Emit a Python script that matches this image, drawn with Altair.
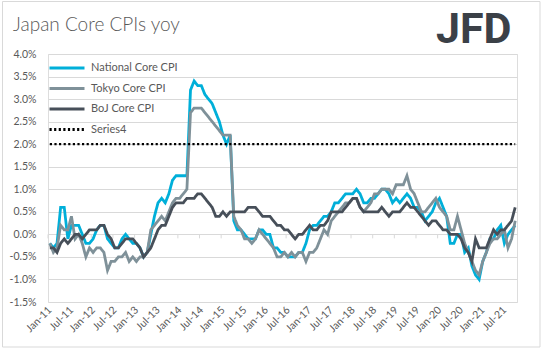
import altair as alt
import pandas as pd

FONT = "Lato"
TXT = "#595959"
GRID = "#d9d9d9"

years = list(range(2011, 2022))
month_names = ["Jan", "Feb", "Mar", "Apr", "May", "Jun", "Jul", "Aug", "Sep", "Oct", "Nov", "Dec"]
months = [f"{m}-{str(y)[2:]}" for y in years for m in month_names][:130]  # Jan-11 .. Oct-21
x_labels = months[::6]

national = [
    -0.2, -0.3, -0.2, 0.6, 0.6, -0.1, 0.2, 0.2, 0.2, 0.0, -0.2, -0.2,
    -0.1, 0.1, 0.2, 0.2, -0.1, -0.2, -0.3, -0.3, -0.1, 0.0, -0.1, -0.2,
    -0.2, -0.3, -0.5, -0.4, 0.0, 0.4, 0.7, 0.8, 0.7, 0.9, 1.2, 1.3,
    1.3, 1.3, 1.3, 3.2, 3.4, 3.3, 3.3, 3.1, 3.0, 2.9, 2.7, 2.5,
    2.2, 2.0, 2.2, 0.3, 0.1, 0.1, 0.0, -0.1, -0.1, -0.1, 0.1, 0.1,
    0.0, 0.0, -0.3, -0.3, -0.4, -0.4, -0.5, -0.5, -0.5, -0.4, -0.4, -0.2,
    0.1, 0.2, 0.2, 0.3, 0.4, 0.4, 0.5, 0.7, 0.7, 0.8, 0.9, 0.9,
    0.9, 1.0, 0.9, 0.7, 0.7, 0.8, 0.8, 0.9, 1.0, 1.0, 0.9, 0.7,
    0.8, 0.7, 0.8, 0.9, 0.8, 0.6, 0.6, 0.5, 0.3, 0.4, 0.5, 0.7,
    0.8, 0.6, 0.4, -0.2, -0.2, 0.0, 0.0, -0.4, -0.3, -0.7, -0.9, -1.0,
    -0.6, -0.4, -0.1, -0.1, 0.1, 0.2, -0.2, 0.0, 0.1, 0.2,
]
tokyo = [
    -0.2, -0.4, -0.3, 0.2, 0.1, 0.1, 0.4, -0.1, 0.0, -0.2, -0.5, -0.3,
    -0.4, -0.3, -0.3, -0.4, -0.8, -0.6, -0.6, -0.5, -0.5, -0.4, -0.6, -0.5,
    -0.6, -0.5, -0.5, -0.4, 0.1, 0.2, 0.3, 0.4, 0.3, 0.5, 0.7, 0.8,
    0.8, 0.9, 1.0, 2.7, 2.8, 2.8, 2.8, 2.7, 2.6, 2.5, 2.4, 2.3,
    2.2, 2.2, 2.2, 0.4, 0.2, 0.1, -0.1, -0.1, -0.2, -0.1, 0.1, 0.0,
    -0.1, -0.2, -0.3, -0.5, -0.5, -0.4, -0.5, -0.4, -0.5, -0.4, -0.4, -0.6,
    -0.4, -0.4, -0.3, -0.1, 0.1, 0.0, 0.3, 0.4, 0.5, 0.6, 0.7, 0.7,
    0.8, 0.8, 0.6, 0.5, 0.6, 0.7, 0.9, 0.9, 1.0, 1.0, 1.0, 0.9,
    1.1, 1.1, 1.1, 1.3, 1.0, 0.9, 0.7, 0.5, 0.5, 0.6, 0.7, 0.8,
    0.6, 0.5, 0.4, 0.1, 0.1, 0.4, 0.1, -0.2, -0.4, -0.6, -0.8, -0.9,
    -0.6, -0.4, -0.2, -0.1, -0.1, 0.0, 0.1, -0.3, -0.1, 0.3,
]
boj = [
    -0.3, -0.3, -0.4, -0.2, -0.1, -0.2, -0.1, 0.0, 0.0, -0.1, 0.0, 0.1,
    0.1, 0.1, 0.2, 0.2, 0.0, -0.1, -0.3, -0.3, -0.2, -0.1, -0.1, -0.1,
    -0.2, -0.3, -0.5, -0.4, -0.3, -0.1, 0.1, 0.2, 0.2, 0.4, 0.6, 0.7,
    0.7, 0.7, 0.8, 0.8, 0.8, 0.9, 0.9, 0.8, 0.7, 0.6, 0.4, 0.4,
    0.5, 0.4, 0.5, 0.5, 0.5, 0.5, 0.5, 0.6, 0.6, 0.6, 0.5, 0.4,
    0.4, 0.4, 0.3, 0.2, 0.2, 0.1, 0.1, 0.0, -0.1, 0.0, 0.0, 0.1,
    0.2, 0.1, 0.1, 0.2, 0.2, 0.3, 0.5, 0.5, 0.5, 0.5, 0.6, 0.7,
    0.8, 0.8, 0.6, 0.5, 0.5, 0.5, 0.5, 0.5, 0.6, 0.5, 0.4, 0.5,
    0.5, 0.5, 0.6, 0.7, 0.6, 0.6, 0.5, 0.4, 0.3, 0.2, 0.3, 0.3,
    0.2, 0.1, 0.1, 0.0, 0.0, 0.0, -0.1, -0.3, -0.4, -0.6, -0.1, -0.3,
    -0.3, -0.3, -0.1, 0.1, 0.0, 0.1, 0.1, 0.2, 0.3, 0.6,
]
series4 = [2.0] * len(months)

y_ticks = [-1.5, -1.0, -0.5, 0.0, 0.5, 1.0, 1.5, 2.0, 2.5, 3.0, 3.5, 4.0]

series_names = ["National Core CPI", "Tokyo Core CPI", "BoJ Core CPI", "Series4"]
series_colors = ["#00afd9", "#7f9199", "#474f59", "#000000"]
series_dashes = [[1, 0], [1, 0], [1, 0], [2.2, 2.4]]

rows = []
for name, vals in zip(series_names, [national, tokyo, boj, series4]):
    for m, v in zip(months, vals):
        rows.append({"month": m, "series": name, "value": v})
df = pd.DataFrame(rows)

W, H = 469, 248
step = W / len(months)

x_enc = alt.X(
    "month:O",
    sort=months,
    scale=alt.Scale(type="point", padding=0.5),
    axis=alt.Axis(
        values=x_labels, labelAngle=-45, labelAlign="right", labelBaseline="middle",
        labelPadding=6, ticks=False, domain=False, grid=False, title=None,
        labelFont=FONT, labelFontSize=10.5, labelColor=TXT, labelOverlap=False,
    ),
)
y_enc = alt.Y(
    "value:Q",
    scale=alt.Scale(domain=[-1.5, 4.0], nice=False, zero=False),
    axis=alt.Axis(
        values=y_ticks, tickCount=len(y_ticks),
        labelExpr="(datum.value < 0 ? '-' : '') + format(abs(datum.value), '.1f') + '%'",
        grid=True, gridColor=GRID, gridWidth=1, domain=False, ticks=False,
        labelPadding=12, title=None, labelFont=FONT, labelFontSize=10.5, labelColor=TXT,
        labelOverlap=False, labelFlush=False,
    ),
)
legend = alt.Legend(
    title=None, orient="none", legendX=0, legendY=7, symbolType="stroke",
    symbolSize=1225, symbolStrokeWidth=3, labelFont=FONT, labelFontSize=11,
    labelColor=TXT, clipHeight=14, rowPadding=6.5, labelOffset=5, padding=0,
)
color_enc = alt.Color("series:N", scale=alt.Scale(domain=series_names, range=series_colors), legend=legend)
dash_enc = alt.StrokeDash("series:N", scale=alt.Scale(domain=series_names, range=series_dashes), legend=legend)

layers = []
# category axis line ticks at 0%
tick_df = pd.DataFrame({"month": x_labels})
layers.append(
    alt.Chart(tick_df).mark_rule(color=GRID, strokeWidth=1, xOffset=-step / 2, y2Offset=4).encode(
        x=x_enc, y=alt.datum(0), y2=alt.datum(0)
    )
)
for name in series_names:
    width = 2.2 if name == "Series4" else 2.8
    layers.append(
        alt.Chart(df).transform_filter(alt.datum.series == name).mark_line(strokeWidth=width).encode(
            x=x_enc, y=y_enc, color=color_enc, strokeDash=dash_enc
        )
    )

deco = pd.DataFrame({"a": [0]})
border = alt.Chart(deco).mark_rect(fillOpacity=0, stroke=GRID, strokeWidth=1).encode(
    x=alt.value(-45.5), x2=alt.value(492), y=alt.value(-52.5), y2=alt.value(293)
)
title = alt.Chart(deco).mark_text(
    text="Japan Core CPIs yoy", font=FONT, fontSize=19, fontWeight=300, color=TXT,
    align="left", baseline="alphabetic",
).encode(x=alt.value(-35), y=alt.value(-23))
logo = alt.Chart(deco).mark_text(
    text="JFD", font="Roboto", fontSize=43,
    fontWeight="bold", color="#3b4047", align="left", baseline="alphabetic",
).encode(x=alt.value(388), y=alt.value(-11))

chart = alt.layer(border, title, logo, *layers).properties(
    width=W, height=H, autosize="none",
    padding={"left": 48, "top": 54, "right": 26, "bottom": 50},
).configure_view(stroke=None).configure(background="white")

chart.save("out.html", embed_options={"renderer": "svg", "actions": False})
